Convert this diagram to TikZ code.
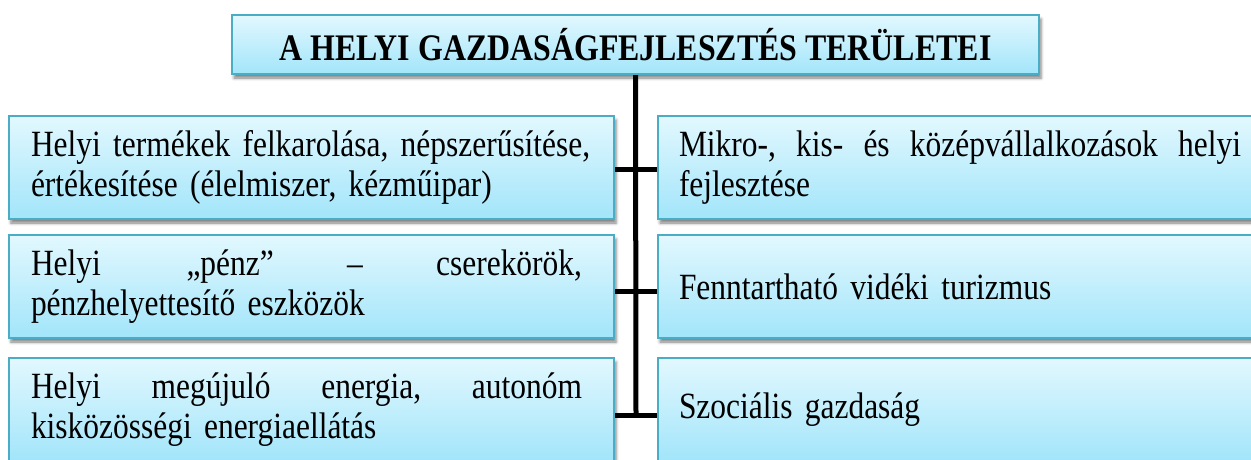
\documentclass[tikz,border=0pt]{standalone}
\usepackage{fontspec}
\setmainfont[FakeStretch=0.85]{Liberation Serif}
\usetikzlibrary{shadows.blur}
\definecolor{bordc}{RGB}{75,172,198}
\definecolor{topc}{RGB}{226,248,254}
\definecolor{botc}{RGB}{162,229,250}
\newcommand{\justline}[2]{\leavevmode\hbox to #1{#2}}
\newcommand{\boxfont}{\fontsize{37pt}{40pt}\selectfont\spaceskip 7.8pt plus 4pt minus 1.5pt\relax}
\newcommand{\titlefont}{\fontsize{37.5pt}{40pt}\selectfont\bfseries\spaceskip 8pt plus 2pt minus 1pt\relax}
\tikzset{
  box/.style={draw=bordc, line width=2pt, top color=topc, bottom color=botc,
    inner sep=0pt, minimum height=103pt,
    blur shadow={shadow xshift=2pt, shadow yshift=-4pt, shadow blur radius=3pt, shadow opacity=50},
    font=\boxfont, align=left},
  leftbox/.style={box, minimum width=605pt, text width=561pt},
  rightbox/.style={box, minimum width=605pt, text width=563pt},
  titlebox/.style={box, minimum width=807pt, minimum height=59pt,
    font=\titlefont, align=center},
  conn/.style={line width=5pt, black}
}
\begin{document}
\begin{tikzpicture}[x=1pt,y=-1pt]
\useasboundingbox (0,0) rectangle (1251,459);
\clip (0,0) rectangle (1251,459);
\node[titlebox] (t) at (635.5,44.5) {A HELYI GAZDASÁGFEJLESZTÉS TERÜLETEI};
\coordinate (j1) at (636,169);
\coordinate (j2) at (636,291);
\coordinate (j3) at (636,415);
\draw[conn] (t.south) -- (j3);
\node[leftbox] (l1) at (311.5,167.5) {\justline{551pt}{Helyi termékek felkarolása, népszerűsítése,}\\értékesítése (élelmiszer, kézműipar)};
\node[leftbox] (l2) at (311.5,286.5) {\justline{551pt}{Helyi \hfill„pénz”\hfill –\hfill cserekörök,}\\pénzhelyettesítő eszközök};
\node[leftbox] (l3) at (311.5,409.5) {\justline{551pt}{Helyi\hfill megújuló\hfill energia,\hfill autonóm}\\kisközösségi energiaellátás};
\node[rightbox] (r1) at (960.5,167.5) {\justline{562pt}{Mikro-,\hfill kis-\hfill és\hfill középvállalkozások\hfill helyi}\\fejlesztése};
\node[rightbox] (r2) at (960.5,286.5) {Fenntartható vidéki turizmus};
\node[rightbox] (r3) at (960.5,409.5) {Szociális gazdaság};
\draw[conn] (l1.east |- j1) -- (r1.west |- j1);
\draw[conn] (l2.east |- j2) -- (r2.west |- j2);
\draw[conn] (l3.east |- j3) -- (r3.west |- j3);
\end{tikzpicture}
\end{document}
